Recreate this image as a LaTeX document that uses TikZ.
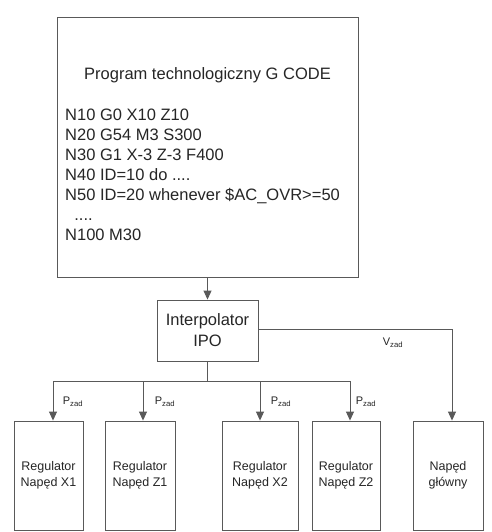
\documentclass[tikz,border=0pt]{standalone}
\usepackage{fontspec}
\setmainfont{Liberation Sans}
\usetikzlibrary{arrows.meta}
\begin{document}
\begin{tikzpicture}[x=1pt,y=-1pt,
  box/.style={draw=black!65,line width=0.9pt,rectangle,inner sep=0pt},
  bigtxt/.style={text=black!85,font=\fontsize{16.5}{20}\selectfont},
  smalltxt/.style={text=black!85,font=\fontsize{12.5}{16}\selectfont,align=center},
  lbl/.style={text=black!85,font=\fontsize{11}{13}\selectfont,inner sep=0pt},
  conn/.style={draw=black!65,line width=0.9pt},
  arr/.style={conn,-{Triangle[length=9pt,width=8pt]}}]
\useasboundingbox (0,0) rectangle (491,532);
\fill[white] (0,0) rectangle (491,532);
% program box
\node[box,minimum width=301pt,minimum height=260pt] (prog) at (207.5,147) {};
\node[bigtxt] (title) at (207.5,75) {Program technologiczny G CODE};
\node[bigtxt,anchor=north west,align=left,inner sep=0pt] (code) at (65,109)
 {N10 G0 X10 Z10\\N20 G54 M3 S300\\N30 G1 X-3 Z-3 F400\\N40 ID=10 do ....\\N50 ID=20 whenever \$AC\_OVR>=50\\\ \ ....\\N100 M30};
% interpolator
\node[box,bigtxt,minimum width=101pt,minimum height=61pt,align=center] (ipo) at (207.5,330.5) {Interpolator\\[1pt]IPO};
% bottom boxes
\node[box,smalltxt,minimum width=69pt,minimum height=109pt] (b1) at (48.5,475.5) {Regulator\\Napęd X1};
\node[box,smalltxt,minimum width=70pt,minimum height=109pt] (b2) at (140,475.5) {Regulator\\Napęd Z1};
\node[box,smalltxt,minimum width=76pt,minimum height=109pt] (b3) at (260,475.5) {Regulator\\Napęd X2};
\node[box,smalltxt,minimum width=68pt,minimum height=109pt] (b4) at (346,475.5) {Regulator\\Napęd Z2};
\node[box,smalltxt,minimum width=70pt,minimum height=109pt] (b5) at (448,475.5) {Napęd\\główny};
% connectors
\draw[arr] (prog.south) -- (ipo.north);
\coordinate (j) at (207.5,381);
\draw[conn] (ipo.south) -- (j);
\draw[arr] (j) -| ([xshift=4.5pt]b1.north);
\draw[arr] (j) -| ([xshift=3pt]b2.north);
\draw[arr] (j) -| (b3.north);
\draw[arr] (j) -| ([xshift=4pt]b4.north);
\draw[arr] ([yshift=1.5pt]ipo.east) -| ([xshift=4pt]b5.north);
% labels
\node[lbl] (l1) at (73,402) {P\textsubscript{zad}};
\node[lbl] (l2) at (165,402) {P\textsubscript{zad}};
\node[lbl] (l3) at (281,402) {P\textsubscript{zad}};
\node[lbl] (l4) at (366,402) {P\textsubscript{zad}};
\node[lbl] (l5) at (393,343) {V\textsubscript{zad}};
\end{tikzpicture}
\end{document}
